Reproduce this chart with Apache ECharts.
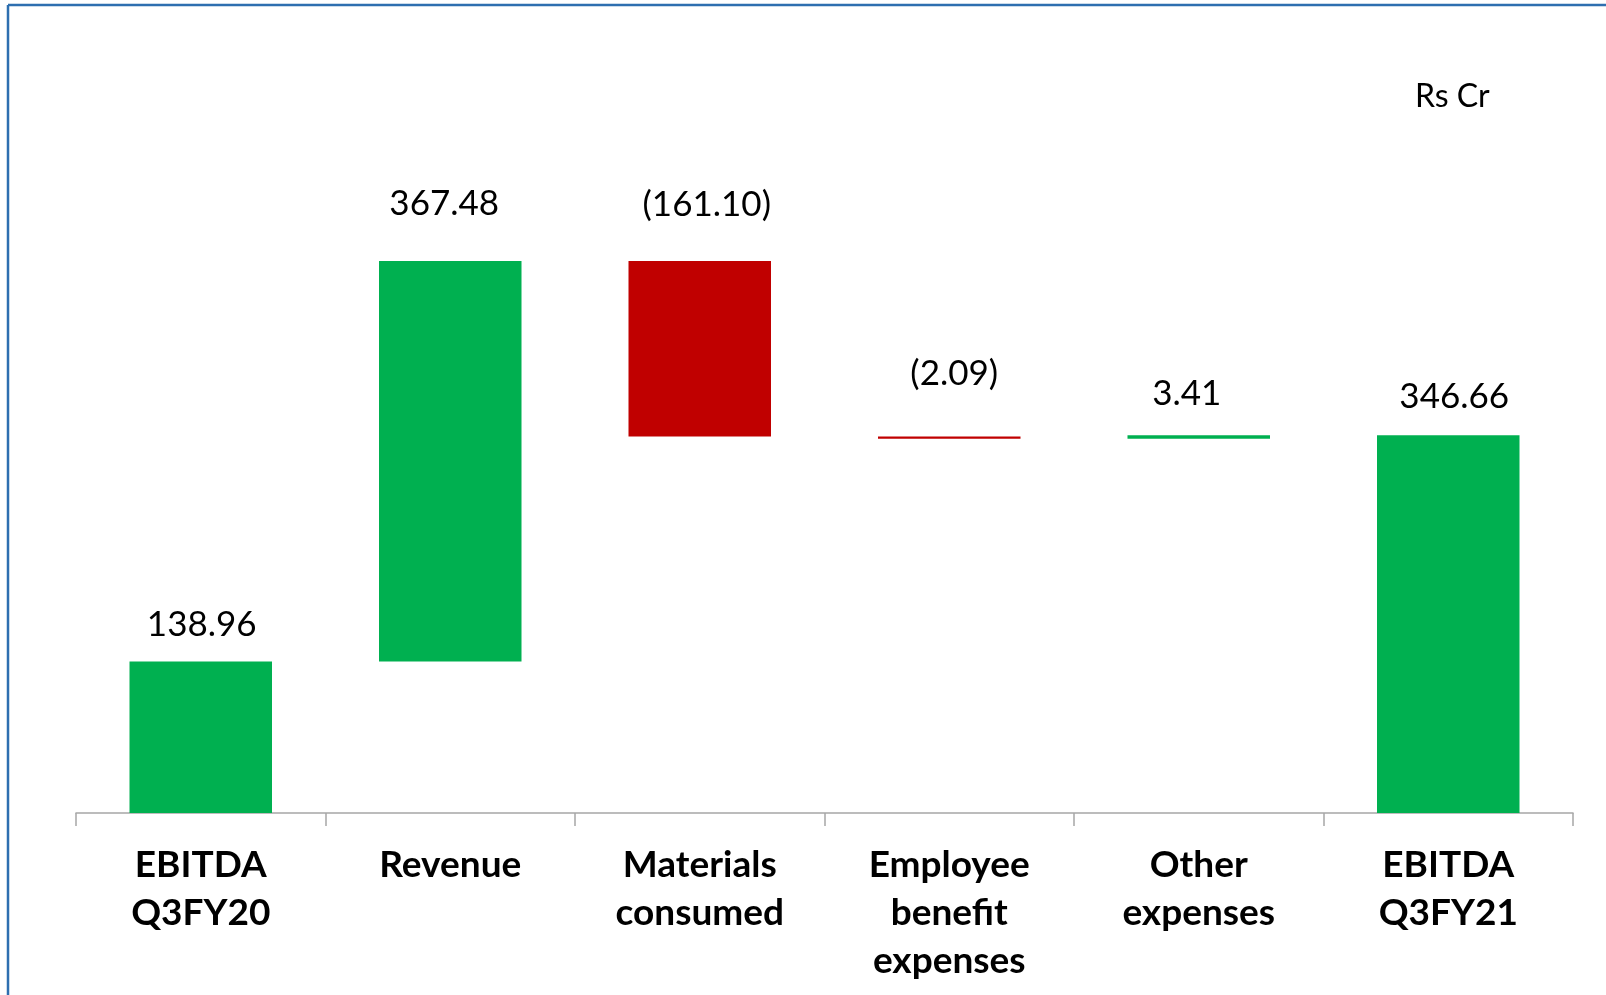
<!DOCTYPE html>
<html>
<head>
<meta charset="utf-8">
<script src="https://cdn.jsdelivr.net/npm/echarts@6/dist/echarts.min.js"></script>
<style>
html,body{margin:0;padding:0;background:#fff;}
#chart{width:1606px;height:995px;}
</style>
</head>
<body>
<div id="chart"></div>
<script>
// Data
var categories = ['EBITDA\nQ3FY20', 'Revenue', 'Materials\nconsumed', 'Employee\nbenefit\nexpenses', 'Other\nexpenses', 'EBITDA\nQ3FY21'];
var startValue = 138.96;
var changes = [367.48, -161.10, -2.09, 3.41];
var endValue = 346.66;
var unitLabel = 'Rs Cr';

// Build waterfall
var baseData = [0];
var barData = [startValue];
var signs = [1];
var running = startValue;
changes.forEach(function (c) {
  if (c >= 0) { baseData.push(running); }
  else { baseData.push(running + c); }
  barData.push(Math.abs(c));
  signs.push(c >= 0 ? 1 : -1);
  running += c;
});
baseData.push(0);
barData.push(endValue);
signs.push(1);

var labelDist = [17, 37, 36, 43, 21, 18];
var labelDx = [1, -6, 7, 5, -12, 6];
var GREEN = '#00b050', RED = '#c00000';

var visible = barData.map(function (v, i) {
  return {
    value: v,
    itemStyle: { color: signs[i] > 0 ? GREEN : RED },
    label: { distance: labelDist[i], offset: [labelDx[i], 0] }
  };
});

var chart = echarts.init(document.getElementById('chart'));
chart.setOption({
  animation: false,
  backgroundColor: '#fff',
  grid: { left: 76, right: 33, top: 159, bottom: 182 },
  xAxis: {
    type: 'category',
    data: categories,
    axisLine: { lineStyle: { color: '#a6a6a6', width: 1.5 } },
    axisTick: { show: true, alignWithLabel: false, length: 13, lineStyle: { color: '#a6a6a6', width: 1.5 } },
    axisLabel: {
      margin: 28,
      fontFamily: 'Lato',
      fontWeight: 'bold',
      fontSize: 37,
      lineHeight: 48,
      color: '#000'
    }
  },
  yAxis: {
    type: 'value', min: 0, max: 600,
    show: false,
    splitLine: { show: false }
  },
  series: [
    {
      type: 'bar', stack: 'w', data: baseData, barWidth: 142.5,
      itemStyle: { color: 'transparent' }, silent: true
    },
    {
      type: 'bar', stack: 'w', data: visible, barWidth: 142.5,
      label: {
        show: true, position: 'top',
        fontFamily: 'Lato', fontSize: 35, lineHeight: 40, color: '#000',
        formatter: function (p) {
          var s = p.value.toFixed(2);
          return signs[p.dataIndex] < 0 ? '(' + s + ')' : s;
        }
      }
    }
  ],
  graphic: [
    { type: 'line', shape: { x1: 8, y1: 5, x2: 1606, y2: 5 }, style: { stroke: '#2e6fb0', lineWidth: 2.5 } },
    { type: 'line', shape: { x1: 8, y1: 5, x2: 8, y2: 995 }, style: { stroke: '#2e6fb0', lineWidth: 2.5 } },
    { type: 'text', left: 1415, top: 81, style: { text: unitLabel, font: '32px Lato', fill: '#000' } }
  ]
});
</script>
</body>
</html>
